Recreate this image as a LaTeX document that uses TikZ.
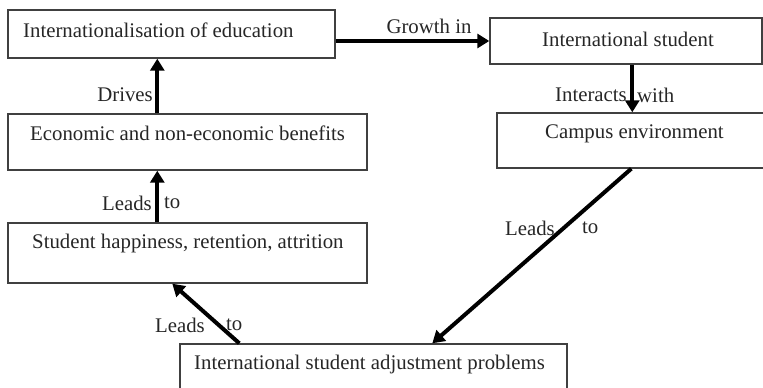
\documentclass[tikz,border=0pt]{standalone}
\usepackage{fontspec}
\setmainfont{Liberation Serif}
\usetikzlibrary{arrows.meta,fit}
\begin{document}
\begin{tikzpicture}[x=1pt,y=-1pt,
  box/.style={draw=black!75, line width=1.4pt, inner sep=0pt, rectangle},
  txt/.style={inner sep=0pt, font=\fontsize{20.8}{24}\selectfont, text=black!85},
  arr/.style={line width=4pt, -{Triangle[length=12pt,width=14pt]}},
]
\path[use as bounding box] (0,0) rectangle (763,388);
\clip (0,0) rectangle (763,388);

% boxes
\node[box, fit={(8,10) (335,58)}]   (b1) {};
\node[box, fit={(490,18) (762,64)}] (b2) {};
\node[box, fit={(8,114) (367,170)}] (b3) {};
\node[box, fit={(497,113) (775,168)}] (b4) {};
\node[box, fit={(8,223) (367,283)}] (b5) {};
\node[box, fit={(180,344) (567,400)}] (b6) {};

% box texts
\node[txt, anchor=west] (t1) at (23,30)  {Internationalisation of education};
\node[txt, anchor=west] (t2) at (542,39) {International student};
\node[txt, anchor=west] (t3) at (30,133) {Economic and non-economic benefits};
\node[txt, anchor=west] (t4) at (545,134) {Campus environment};
\node[txt, anchor=west] (t5) at (32,243) {Student happiness, retention, attrition};
\node[txt, anchor=west] (t6) at (194,364) {International student adjustment problems};

% connectors
\draw[arr] (b1.east |- b2.west) -- (b2.west);
\draw[arr] ([xshift=150pt]b3.north west) -- ([xshift=150pt]b1.south west);
\draw[arr] ([xshift=150pt]b5.north west) -- ([xshift=150pt]b3.south west);
\draw[arr] ([xshift=143pt]b2.south west) -- ([xshift=143pt]b2.south west |- b4.north);
\draw[arr] ([xshift=135pt]b4.south west) -- ([xshift=253pt]b6.north west);
\draw[arr] ([xshift=60pt]b6.north west) -- ([xshift=165pt]b5.south west);

% connector labels
\node[txt] (l1) at (429,26) {Growth in};
\node[txt, anchor=east] (l2) at (153,95) {Drives};
\node[txt, anchor=east] (l3a) at (152,203) {Leads};
\node[txt, anchor=west] (l3b) at (164,203) {to};
\node[txt, anchor=east] (l4a) at (627,95) {Interacts};
\node[txt, anchor=west] (l4b) at (637,95) {with};
\node[txt, anchor=east] (l5a) at (555,228) {Leads};
\node[txt, anchor=west] (l5b) at (582,228) {to};
\node[txt, anchor=east] (l6a) at (205,325) {Leads};
\node[txt, anchor=west] (l6b) at (226,325) {to};
\end{tikzpicture}
\end{document}
